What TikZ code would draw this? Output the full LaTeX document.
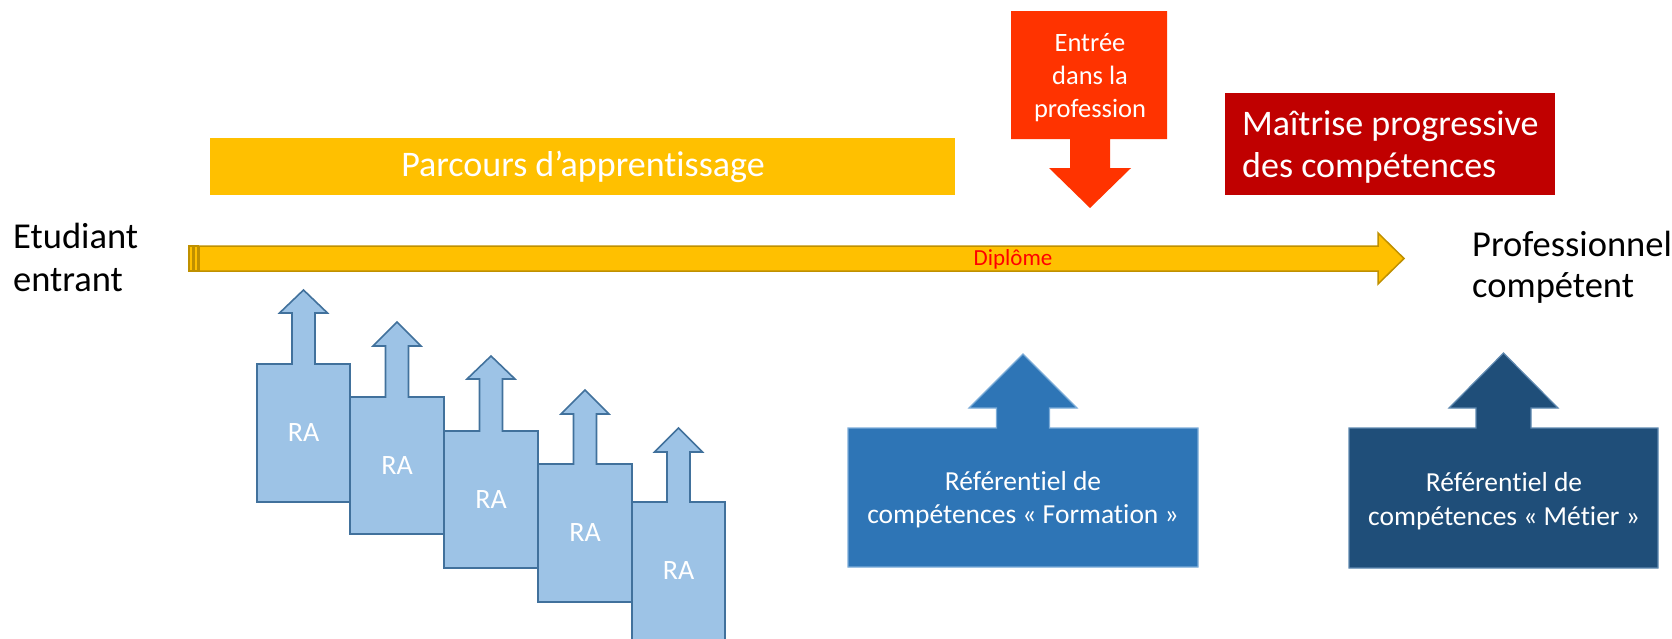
\documentclass[tikz,border=0pt]{standalone}
\usepackage{fontspec}
\setmainfont{Carlito}[RawFeature={-liga;-clig;-dlig}]
\definecolor{gold}{HTML}{FFC000}
\definecolor{golddark}{HTML}{BF9000}
\definecolor{ralight}{HTML}{9DC3E6}
\definecolor{raborder}{HTML}{41719C}
\definecolor{formblue}{HTML}{2E75B6}
\definecolor{metierblue}{HTML}{1F4E79}
\definecolor{entreered}{HTML}{FF3300}
\definecolor{maitred}{HTML}{C00000}
\newcommand{\fs}[1]{\fontsize{#1}{#1}\selectfont}
\newcommand{\ArrowBox}[9]{%
  \pgfmathsetmacro\abcx{(#2+#3)/2}%
  \draw[#1] (#2,#4) -- (\abcx-#6,#4) -- (\abcx-#6,#8) -- (\abcx-#7,#8) -- (\abcx,#9)
    -- (\abcx+#7,#8) -- (\abcx+#6,#8) -- (\abcx+#6,#4) -- (#3,#4) -- (#3,#5) -- (#2,#5) -- cycle;}
\tikzset{
  rabox/.style={fill=ralight, draw=raborder, line width=1.6pt, line join=miter},
  formbox/.style={fill=formblue, draw=ralight!70!formblue, line width=1.2pt},
  metbox/.style={fill=metierblue, draw=ralight!50!metierblue, line width=1.2pt},
  ratext/.style={text=white, font=\fs{28}, inner sep=0pt},
  whitetxt/.style={text=white, inner sep=0pt, anchor=base},
  blacktxt/.style={text=black, inner sep=0pt, anchor=base west, font=\fs{36.5}},
  goldarrow/.style={fill=gold, draw=golddark, line width=1.5pt},
}
\begin{document}
\begin{tikzpicture}[x=1pt, y=-1pt]
\useasboundingbox (0,0) rectangle (1672,638);
\begin{scope}
\clip (0,0) rectangle (1672,638);

% Parcours box
\fill[gold] (210,138) rectangle (955,195);
\node[whitetxt, font=\fs{36}, anchor=center] (parcours) at (583,167) {Parcours d’apprentissage};

% Entree box arrow
\fill[entreered] (1011,11) -- (1167,11) -- (1167,139) -- (1110,139) -- (1110,168) -- (1131,168)
  -- (1090,208) -- (1049,168) -- (1070,168) -- (1070,139) -- (1011,139) -- cycle;
\node[whitetxt, font=\fs{26.5}] (entree1) at (1090,51) {Entrée};
\node[whitetxt, font=\fs{26.5}] (entree2) at (1090,84) {dans la};
\node[whitetxt, font=\fs{26.5}] (entree3) at (1090,117) {profession};

% Maitrise box
\fill[maitred] (1225,93) rectangle (1555,195);
\node[whitetxt, font=\fs{36}, anchor=base west] (maitrise1) at (1242,135) {Maîtrise progressive};
\node[whitetxt, font=\fs{36}, anchor=base west] (maitrise2) at (1242,177) {des compétences};

% Main arrow
\filldraw[goldarrow] (189,246) rectangle (193,271);
\filldraw[goldarrow] (194,246) rectangle (198,271);
\filldraw[goldarrow] (199,246) -- (1378,246) -- (1378,233) -- (1404,258.5) -- (1378,284)
  -- (1378,271) -- (199,271) -- cycle;
\node[text=red, inner sep=0pt, anchor=base, font=\fs{23}] (diplome) at (1013,265) {Diplôme};

% Left / right labels
\node[blacktxt] (etud1) at (13,248) {Etudiant};
\node[blacktxt] (etud2) at (13,291) {entrant};
\node[blacktxt] (prof1) at (1472,256) {Professionnel};
\node[blacktxt] (prof2) at (1472,297) {compétent};

% RA boxes
\ArrowBox{rabox}{257}{350}{364}{502}{11.5}{24}{313}{290}
\ArrowBox{rabox}{350}{444}{397}{534}{11.5}{24}{346}{322}
\ArrowBox{rabox}{444}{538}{431}{568}{11.5}{24}{379}{356}
\ArrowBox{rabox}{538}{632}{464}{602}{11.5}{24}{414}{390}
\ArrowBox{rabox}{632}{725}{502}{660}{11.5}{24}{452}{428}
\node[ratext] (ra1) at (303.5,433) {RA};
\node[ratext] (ra2) at (397,466) {RA};
\node[ratext] (ra3) at (491,500) {RA};
\node[ratext] (ra4) at (585,533) {RA};
\node[ratext] (ra5) at (678.5,571) {RA};

% Referentiel boxes
\ArrowBox{formbox}{848}{1198}{428}{567}{26.5}{54}{408}{354}
\node[whitetxt, font=\fs{27.5}] (form1) at (1023,490) {Référentiel de};
\node[whitetxt, font=\fs{27.5}] (form2) at (1023,523) {compétences « Formation »};

\ArrowBox{metbox}{1349}{1658}{428}{568}{27.5}{54.5}{408}{353}
\node[whitetxt, font=\fs{27.5}] (met1) at (1504,491) {Référentiel de};
\node[whitetxt, font=\fs{27.5}] (met2) at (1504,525) {compétences « Métier »};
\end{scope}
\end{tikzpicture}
\end{document}
